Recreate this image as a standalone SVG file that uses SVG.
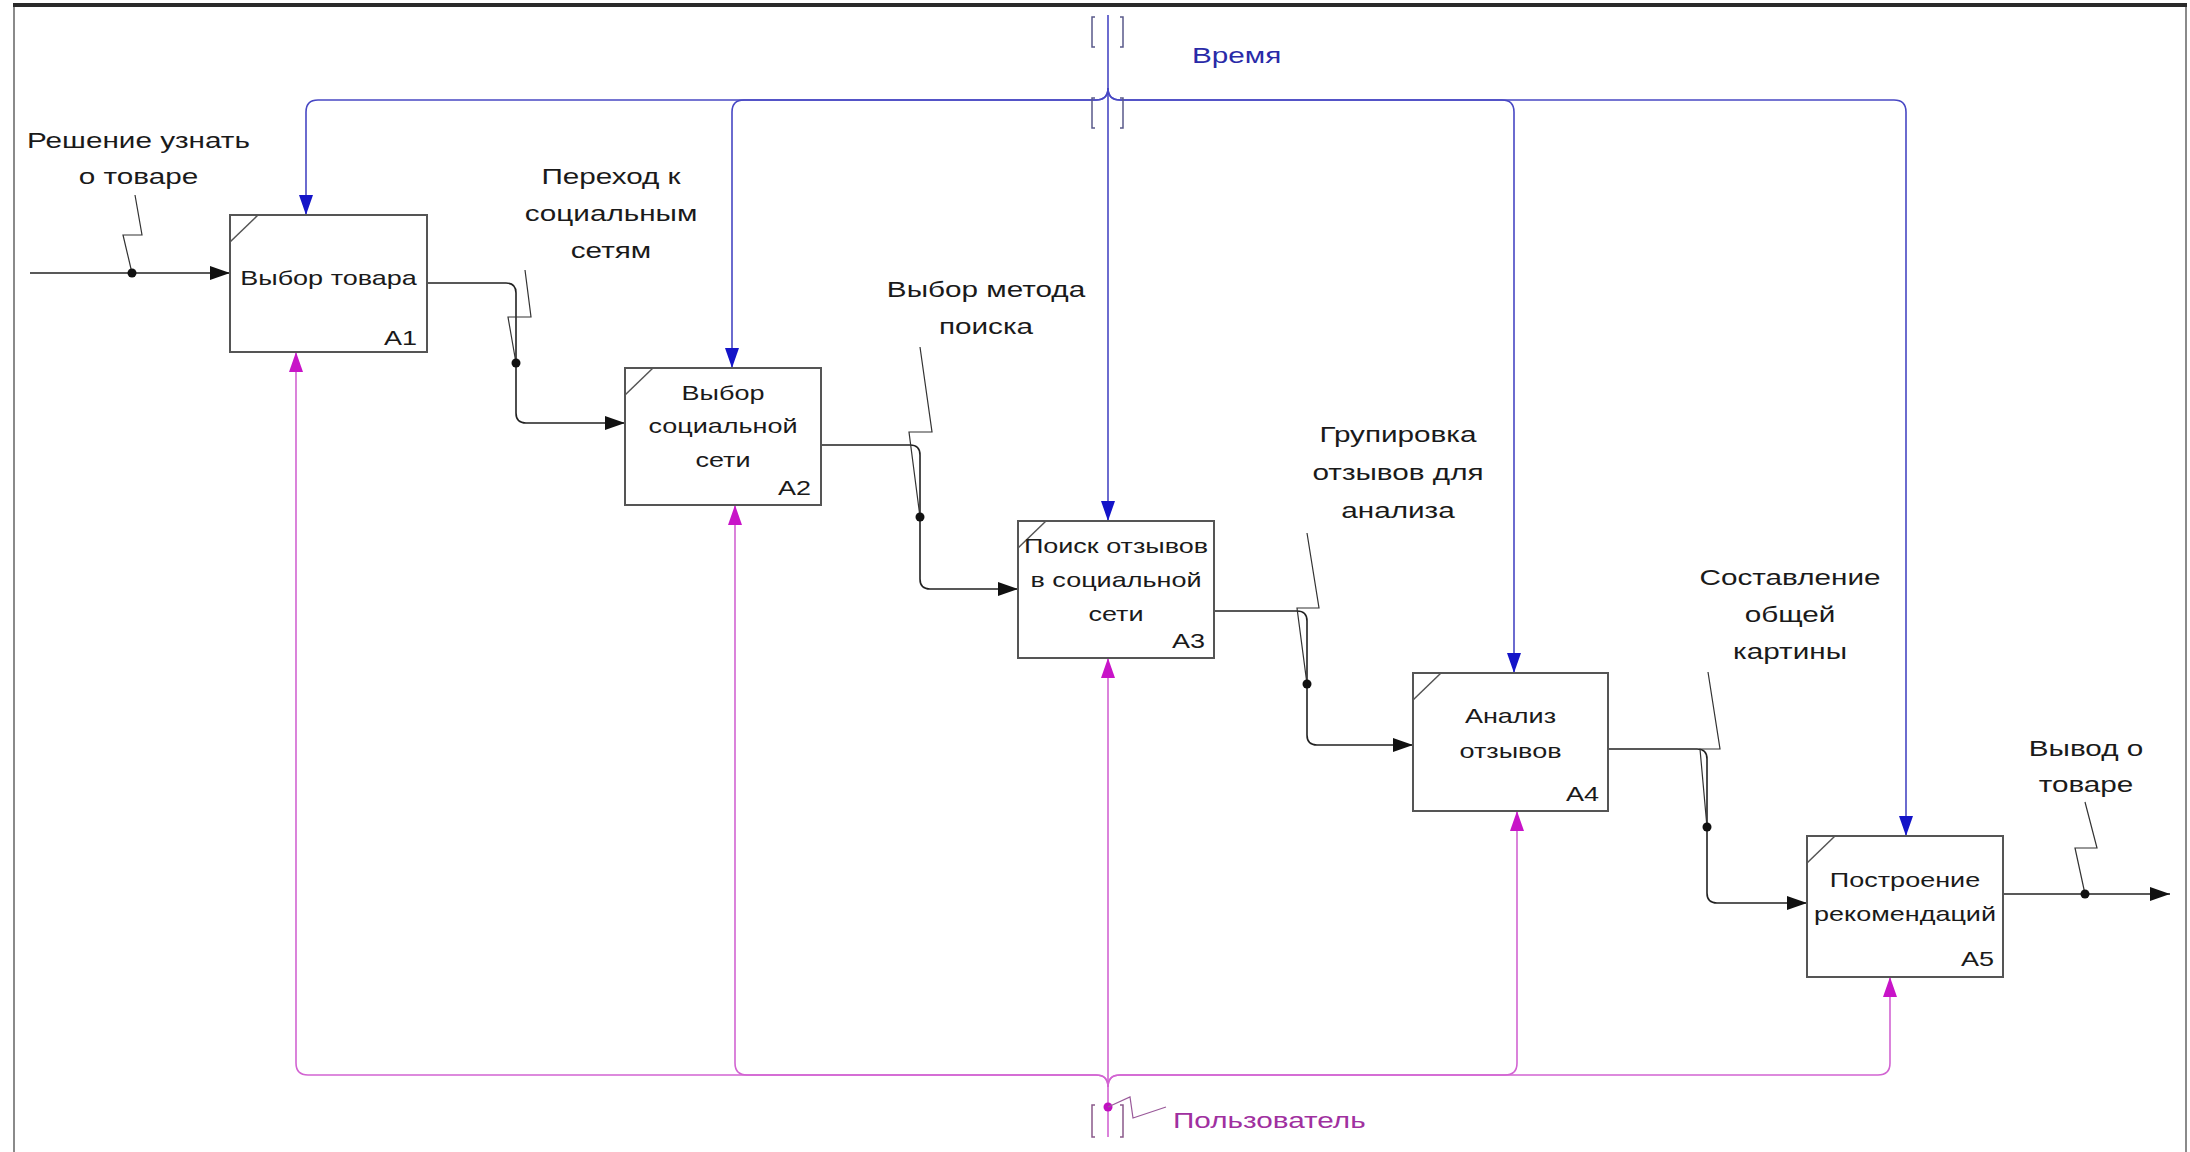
<svg xmlns="http://www.w3.org/2000/svg" width="2190" height="1152" viewBox="0 0 2190 1152">
<style>
text{font-family:"Liberation Sans",Arial,sans-serif;fill:#1a1a1a}
.lbl{font-size:22px;text-anchor:middle}
.bt{font-size:20px;text-anchor:middle}
.num{font-size:20px;text-anchor:end}
.box{fill:#fff;stroke:#555;stroke-width:2}
.corner{stroke:#555;stroke-width:1.5;fill:none}
.flow{fill:none;stroke:#222;stroke-width:1.6}
.sq{fill:none;stroke:#333;stroke-width:1.2}
.ctl{fill:none;stroke:#4848c4;stroke-width:1.6}
.mech{fill:none;stroke:#d264d2;stroke-width:1.6}
.brk{fill:none;stroke:#5a5a8a;stroke-width:1.5}
.brkm{fill:none;stroke:#8a5a8a;stroke-width:1.5}
</style>
<defs>
<marker id="ak" viewBox="0 0 20 14" refX="20" refY="7" markerWidth="20" markerHeight="14" markerUnits="userSpaceOnUse" orient="auto"><path d="M0,0 L20,7 L0,14 z" fill="#111"/></marker>
<marker id="ab" viewBox="0 0 20 14" refX="20" refY="7" markerWidth="20" markerHeight="14" markerUnits="userSpaceOnUse" orient="auto"><path d="M0,0 L20,7 L0,14 z" fill="#1414c8"/></marker>
<marker id="am" viewBox="0 0 20 14" refX="20" refY="7" markerWidth="20" markerHeight="14" markerUnits="userSpaceOnUse" orient="auto"><path d="M0,0 L20,7 L0,14 z" fill="#c814c8"/></marker>
</defs>
<rect width="2190" height="1152" fill="#fff"/>
<g id="frame">
<path d="M14,1152 V6 M2186,6 V1152" stroke="#8a8a8a" stroke-width="2" fill="none"/>
<line x1="13" y1="5" x2="2187" y2="5" stroke="#2a2a2a" stroke-width="4"/>
</g>
<g id="connectors">
<!-- black flows -->
<path class="flow" d="M30,273 H230" marker-end="url(#ak)"/>
<path class="flow" d="M427,283 H506 Q516,283 516,293 V413 Q516,423 526,423 H625" marker-end="url(#ak)"/>
<path class="flow" d="M821,445 H910 Q920,445 920,455 V579 Q920,589 930,589 H1018" marker-end="url(#ak)"/>
<path class="flow" d="M1214,611 H1297 Q1307,611 1307,621 V735 Q1307,745 1317,745 H1413" marker-end="url(#ak)"/>
<path class="flow" d="M1608,749 H1697 Q1707,749 1707,759 V893 Q1707,903 1717,903 H1807" marker-end="url(#ak)"/>
<path class="flow" d="M2003,894 H2170" marker-end="url(#ak)"/>
<!-- label squiggles -->
<path class="sq" d="M132,273 L123,235 H142 L135,195"/>
<path class="sq" d="M516,363 L508,317 H531 L525,270"/>
<path class="sq" d="M920,517 L909,432 H932 L920,347"/>
<path class="sq" d="M1307,684 L1297,608 H1319 L1307,533"/>
<path class="sq" d="M1707,827 L1700,749 H1720 L1708,672"/>
<path class="sq" d="M2085,894 L2075,848 H2097 L2085,802"/>
<g fill="#111">
<circle cx="132" cy="273" r="4.5"/>
<circle cx="516" cy="363" r="4.5"/>
<circle cx="920" cy="517" r="4.5"/>
<circle cx="1307" cy="684" r="4.5"/>
<circle cx="1707" cy="827" r="4.5"/>
<circle cx="2085" cy="894" r="4.5"/>
</g>
<!-- controls (Время) -->
<path class="ctl" d="M1108,15 V521" marker-end="url(#ab)"/>
<path class="ctl" d="M1108,88 Q1108,100 1096,100 H318 Q306,100 306,112 V215" marker-end="url(#ab)"/>
<path class="ctl" d="M1108,88 Q1108,100 1096,100 H744 Q732,100 732,112 V368" marker-end="url(#ab)"/>
<path class="ctl" d="M1108,88 Q1108,100 1120,100 H1502 Q1514,100 1514,112 V673" marker-end="url(#ab)"/>
<path class="ctl" d="M1108,88 Q1108,100 1120,100 H1894 Q1906,100 1906,112 V836" marker-end="url(#ab)"/>
<path class="brk" d="M1095,17 H1092 V47 H1095 M1120,17 H1123 V47 H1120 M1095,98 H1092 V128 H1095 M1120,98 H1123 V128 H1120"/>
<!-- mechanisms (Пользователь) -->
<path class="mech" d="M1108,1137 V658" marker-end="url(#am)"/>
<path class="mech" d="M1108,1087 Q1108,1075 1096,1075 H308 Q296,1075 296,1063 V352" marker-end="url(#am)"/>
<path class="mech" d="M1108,1087 Q1108,1075 1096,1075 H747 Q735,1075 735,1063 V505" marker-end="url(#am)"/>
<path class="mech" d="M1108,1087 Q1108,1075 1120,1075 H1505 Q1517,1075 1517,1063 V811" marker-end="url(#am)"/>
<path class="mech" d="M1108,1087 Q1108,1075 1120,1075 H1878 Q1890,1075 1890,1063 V977" marker-end="url(#am)"/>
<path class="brkm" d="M1095,1105 H1092 V1137 H1095 M1120,1105 H1123 V1137 H1120"/>
<circle cx="1108" cy="1107" r="4.5" fill="#c010c0"/>
<path d="M1108,1107 L1130,1097 L1133,1118 L1166,1107" fill="none" stroke="#9a5a9a" stroke-width="1.2"/>
</g>
<g id="labels">
<text class="lbl" transform="translate(138.5,0) scale(1.35,1)"><tspan x="0" y="148">Решение узнать</tspan><tspan x="0" y="184.5">о товаре</tspan></text>
<text class="lbl" transform="translate(611,0) scale(1.35,1)"><tspan x="0" y="184">Переход к</tspan><tspan x="0" y="221">социальным</tspan><tspan x="0" y="258">сетям</tspan></text>
<text class="lbl" transform="translate(986,0) scale(1.35,1)"><tspan x="0" y="297">Выбор метода</tspan><tspan x="0" y="334">поиска</tspan></text>
<text class="lbl" transform="translate(1398,0) scale(1.35,1)"><tspan x="0" y="442">Групировка</tspan><tspan x="0" y="480">отзывов для</tspan><tspan x="0" y="518">анализа</tspan></text>
<text class="lbl" transform="translate(1790,0) scale(1.35,1)"><tspan x="0" y="585">Составление</tspan><tspan x="0" y="622">общей</tspan><tspan x="0" y="659">картины</tspan></text>
<text class="lbl" transform="translate(2086,0) scale(1.35,1)"><tspan x="0" y="756">Вывод о</tspan><tspan x="0" y="792">товаре</tspan></text>
<text class="lbl" style="text-anchor:start;fill:#2a2aa8" transform="translate(1192,0) scale(1.35,1)" x="0" y="63">Время</text>
<text class="lbl" style="text-anchor:start;fill:#a030a0" transform="translate(1173,0) scale(1.35,1)" x="0" y="1128">Пользователь</text>
</g>
<g id="A1">
<rect class="box" x="230" y="215" width="197" height="137"/>
<path class="corner" d="M230,242 L258,215"/>
<text class="bt" transform="translate(328.5,0) scale(1.35,1)" x="0" y="285">Выбор товара</text>
<text class="num" transform="translate(417,0) scale(1.35,1)" x="0" y="345">A1</text>
</g>
<g id="A2">
<rect class="box" x="625" y="368" width="196" height="137"/>
<path class="corner" d="M625,395 L653,368"/>
<text class="bt" transform="translate(723,0) scale(1.35,1)"><tspan x="0" y="400">Выбор</tspan><tspan x="0" y="433">социальной</tspan><tspan x="0" y="467">сети</tspan></text>
<text class="num" transform="translate(811,0) scale(1.35,1)" x="0" y="495">A2</text>
</g>
<g id="A3">
<rect class="box" x="1018" y="521" width="196" height="137"/>
<path class="corner" d="M1018,548 L1046,521"/>
<text class="bt" transform="translate(1116,0) scale(1.35,1)"><tspan x="0" y="553">Поиск отзывов</tspan><tspan x="0" y="587">в социальной</tspan><tspan x="0" y="621">сети</tspan></text>
<text class="num" transform="translate(1205,0) scale(1.35,1)" x="0" y="648">A3</text>
</g>
<g id="A4">
<rect class="box" x="1413" y="673" width="195" height="138"/>
<path class="corner" d="M1413,700 L1441,673"/>
<text class="bt" transform="translate(1510.5,0) scale(1.35,1)"><tspan x="0" y="723">Анализ</tspan><tspan x="0" y="758">отзывов</tspan></text>
<text class="num" transform="translate(1599,0) scale(1.35,1)" x="0" y="801">A4</text>
</g>
<g id="A5">
<rect class="box" x="1807" y="836" width="196" height="141"/>
<path class="corner" d="M1807,863 L1835,836"/>
<text class="bt" transform="translate(1905,0) scale(1.35,1)"><tspan x="0" y="887">Построение</tspan><tspan x="0" y="921">рекомендаций</tspan></text>
<text class="num" transform="translate(1994,0) scale(1.35,1)" x="0" y="966">A5</text>
</g>
</svg>
